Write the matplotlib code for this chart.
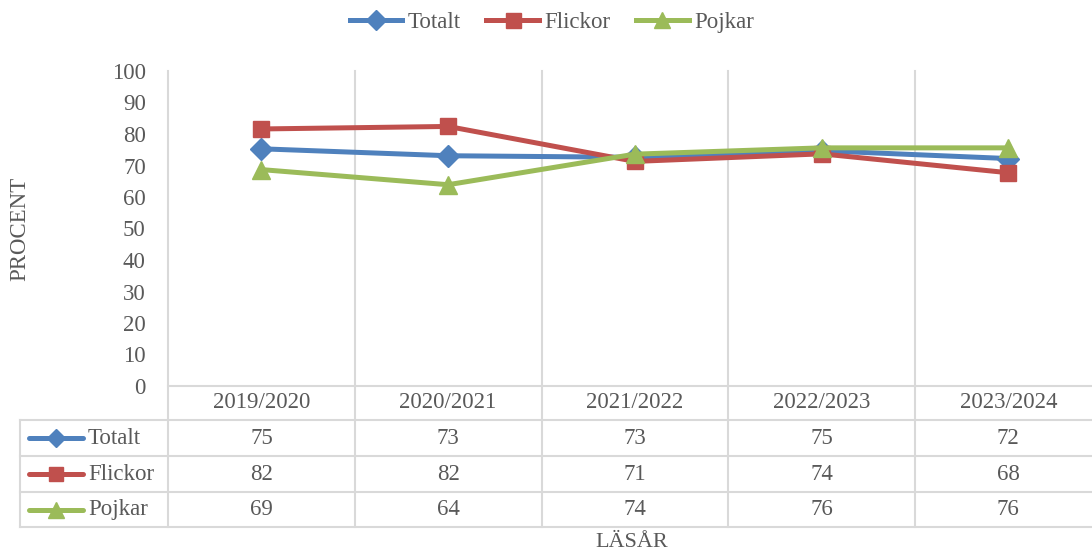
import matplotlib
matplotlib.use("Agg")
import matplotlib.pyplot as plt
from matplotlib.lines import Line2D

# --- data (table shows rounded values) ---
years = ["2019/2020", "2020/2021", "2021/2022", "2022/2023", "2023/2024"]
totalt = [75.3, 73.1, 72.6, 74.7, 72.2]
flickor = [81.6, 82.4, 71.3, 73.7, 67.7]
pojkar = [68.7, 63.9, 73.6, 75.6, 75.6]

series = [
    ("Totalt", totalt, "#4F81BD", "D", 11),
    ("Flickor", flickor, "#C0504D", "s", 12),
    ("Pojkar", pojkar, "#9BBB59", "^", 13),
]

TEXT = "#595959"
GRID = "#D9D9D9"
FS = 16.5

plt.rcParams["font.family"] = ["Liberation Serif", "DejaVu Serif"]

W, H = 1092, 551
fig = plt.figure(figsize=(W / 100, H / 100), dpi=100)

# plot area in pixels (right side runs past the canvas, as in the source)
left, top, bottom, colw = 168, 71, 386, 186.75
right = left + colw * len(years)
ax = fig.add_axes([left / W, (H - bottom) / H, (right - left) / W, (bottom - top) / H])
ax.set_xlim(-0.5, len(years) - 0.5)
ax.set_ylim(0, 100)
for s in ax.spines.values():
    s.set_visible(False)
ax.set_xticks([])
ax.set_yticks(range(0, 101, 10))
ax.tick_params(axis="y", length=0, pad=16, labelsize=FS, labelcolor=TEXT)
for lbl in ax.get_yticklabels():
    lbl.set_va("center_baseline")

x = list(range(len(years)))
for name, vals, col, mk, ms in series:
    ax.plot(x, vals, color=col, lw=3.6, marker=mk, ms=ms, mec=col, mfc=col,
            clip_on=False, zorder=3, label=name)

# --- data table under the plot ---
bt = ax.get_xaxis_transform()  # x in data, y in axes fraction
ph = bottom - top


def ya(px):
    return (bottom - px) / ph


def xd(px):
    return -0.5 + (px - left) / colw


row_edges = [386, 420, 456, 492, 527]
tbl_left = 20

# vertical separators (incl. left edge of plot area)
for i in range(len(years) + 1):
    ax.plot([i - 0.5, i - 0.5], [ya(row_edges[-1]), 1], transform=bt,
            color=GRID, lw=1.5, clip_on=False, zorder=1)
ax.plot([xd(tbl_left)] * 2, [ya(row_edges[1]), ya(row_edges[-1])], transform=bt,
        color=GRID, lw=1.5, clip_on=False)
# horizontal rules
ax.plot([-0.5, len(years) - 0.5], [0, 0], transform=bt, color=GRID, lw=1.5, clip_on=False)
for r in row_edges[1:]:
    ax.plot([xd(tbl_left), len(years) - 0.5], [ya(r)] * 2, transform=bt,
            color=GRID, lw=1.5, clip_on=False)

# header row: categories
hy = ya((row_edges[0] + row_edges[1]) / 2)
for i, yr in enumerate(years):
    ax.text(i, hy, yr, transform=bt, ha="center", va="center", fontsize=FS, color=TEXT)

# series rows
for k, (name, vals, col, mk, ms) in enumerate(series):
    cy = ya((row_edges[k + 1] + row_edges[k + 2]) / 2)
    ax.plot([xd(29), xd(83)], [cy, cy], transform=bt, color=col, lw=3.6,
            solid_capstyle="round", clip_on=False)
    ax.plot([xd(56)], [cy], transform=bt, marker=mk, ms=ms * 0.85, color=col,
            clip_on=False)
    ax.text(xd(88), cy, name, transform=bt, ha="left", va="center",
            fontsize=FS, color=TEXT)
    for i, v in enumerate(vals):
        ax.text(i, cy, f"{round(v)}", transform=bt, ha="center", va="center",
                fontsize=FS, color=TEXT)

# axis titles
fig.text(20 / W, 1 - (top + bottom) / 2 / H, "PROCENT", rotation=90, ha="center",
         va="center", fontsize=FS, color=TEXT)
fig.text(632 / W, 1 - 547 / H, "LÄSÅR", ha="center", va="baseline", fontsize=FS - 0.5,
         color=TEXT)

# legend on top
handles = [Line2D([], [], color=c, lw=3.6, marker=m, ms=s * 0.9, mec=c, mfc=c)
           for _, _, c, m, s in series]
fig.legend(handles, [n for n, *_ in series], loc="center", bbox_to_anchor=(552 / W, 1 - 22 / H),
           ncol=3, frameon=False, fontsize=FS, labelcolor=TEXT, handlelength=2.3,
           handletextpad=0.25, columnspacing=1.1)

fig.savefig("out.png", dpi=100, facecolor="white")
